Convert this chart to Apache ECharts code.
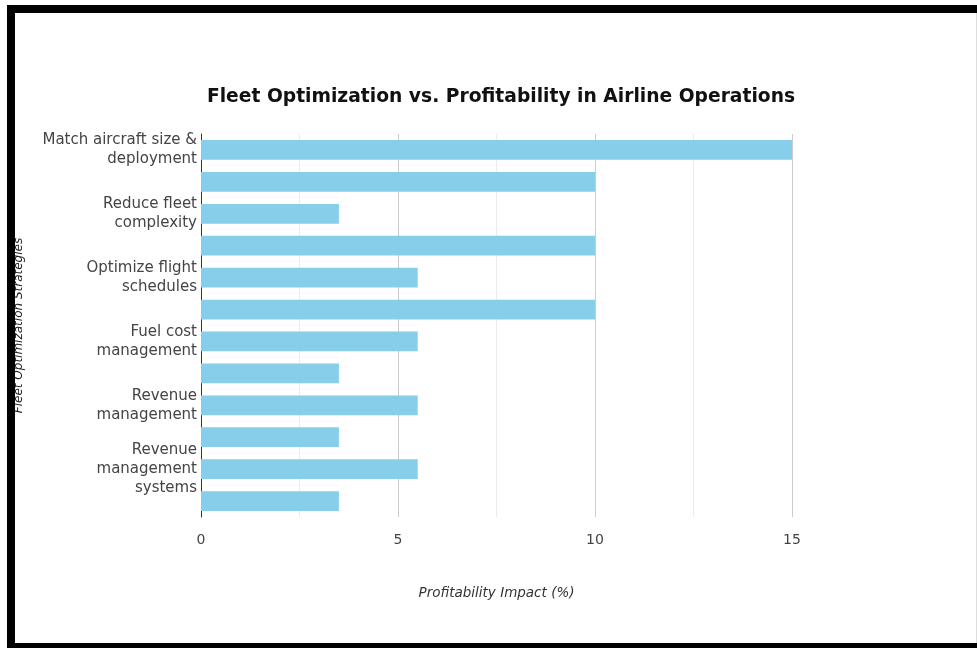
<!DOCTYPE html>
<html>
<head>
<meta charset="utf-8">
<script src="https://cdn.jsdelivr.net/npm/echarts@6/dist/echarts.min.js"></script>
<style>
html,body{margin:0;padding:0;background:#fff;}
#chart{width:977px;height:648px;}
</style>
</head>
<body>
<div id="chart"></div>
<script>
// Categories (top to bottom). Every second label is hidden in the reference.
const categories = [
  "Match aircraft size & deployment",
  "Right-size fleet capacity",
  "Reduce fleet complexity",
  "Fleet commonality",
  "Optimize flight schedules",
  "Network planning",
  "Fuel cost management",
  "Fuel-efficient aircraft",
  "Revenue management",
  "Dynamic pricing",
  "Revenue management systems",
  "Ancillary revenue"
];
const labelText = [
  "Match aircraft size &\ndeployment",
  "",
  "Reduce fleet\ncomplexity",
  "",
  "Optimize flight\nschedules",
  "",
  "Fuel cost\nmanagement",
  "",
  "Revenue\nmanagement",
  "",
  "Revenue\nmanagement\nsystems",
  ""
];
const impactValues = [15, 10, 3.5, 10, 5.5, 10, 5.5, 3.5, 5.5, 3.5, 5.5, 3.5];

const FONT = "'DejaVu Sans', 'Liberation Sans', Arial, sans-serif";
const chart = echarts.init(document.getElementById('chart'), null, {renderer: 'canvas'});
chart.setOption({
  backgroundColor: '#ffffff',
  animation: false,
  title: {
    text: 'Fleet Optimization vs. Profitability in Airline Operations',
    left: 496, textAlign: 'center', top: 83,
    textStyle: {fontFamily: FONT, fontSize: 18.7, fontWeight: 'bold', color: '#111'}
  },
  grid: {left: 201, right: 185, top: 134, bottom: 131, containLabel: false},
  xAxis: {
    type: 'value', min: 0, max: 15, interval: 5,
    name: 'Profitability Impact (%)', nameLocation: 'middle', nameGap: 69,
    nameTextStyle: {fontFamily: FONT, fontSize: 13.5, fontStyle: 'italic', color: '#333'},
    axisLine: {show: false}, axisTick: {show: false},
    axisLabel: {fontFamily: FONT, fontSize: 14, color: '#444', margin: 16},
    splitLine: {show: true, lineStyle: {color: '#cccccc', width: 1}},
    minorTick: {show: false, splitNumber: 2},
    minorSplitLine: {show: true, lineStyle: {color: '#ebebeb', width: 1}}
  },
  yAxis: {
    type: 'category', data: categories, inverse: true,
    name: 'Fleet Optimization Strategies', nameLocation: 'middle', nameGap: 176, nameRotate: 90,
    nameTextStyle: {fontFamily: FONT, fontSize: 12, fontStyle: 'italic', color: '#222'},
    axisLine: {show: true, lineStyle: {color: '#333', width: 1}},
    axisTick: {show: false},
    splitLine: {show: false},
    axisLabel: {
      interval: 0, fontFamily: FONT, fontSize: 15, color: '#444', margin: 4, lineHeight: 19,
      formatter: function (v, i) { return labelText[i]; }
    }
  },
  series: [{
    type: 'bar', data: impactValues, barWidth: '62%',
    itemStyle: {color: '#87CEEB'}
  }],
  graphic: [
    {type: 'rect', shape: {x: 7, y: 5, width: 970, height: 8}, style: {fill: '#000'}, z: 100},
    {type: 'rect', shape: {x: 7, y: 5, width: 8, height: 643}, style: {fill: '#000'}, z: 100},
    {type: 'rect', shape: {x: 7, y: 643, width: 970, height: 5}, style: {fill: '#000'}, z: 100},
    {type: 'rect', shape: {x: 976, y: 13, width: 1, height: 630}, style: {fill: '#dddddd'}, z: 100}
  ]
});
</script>
</body>
</html>
